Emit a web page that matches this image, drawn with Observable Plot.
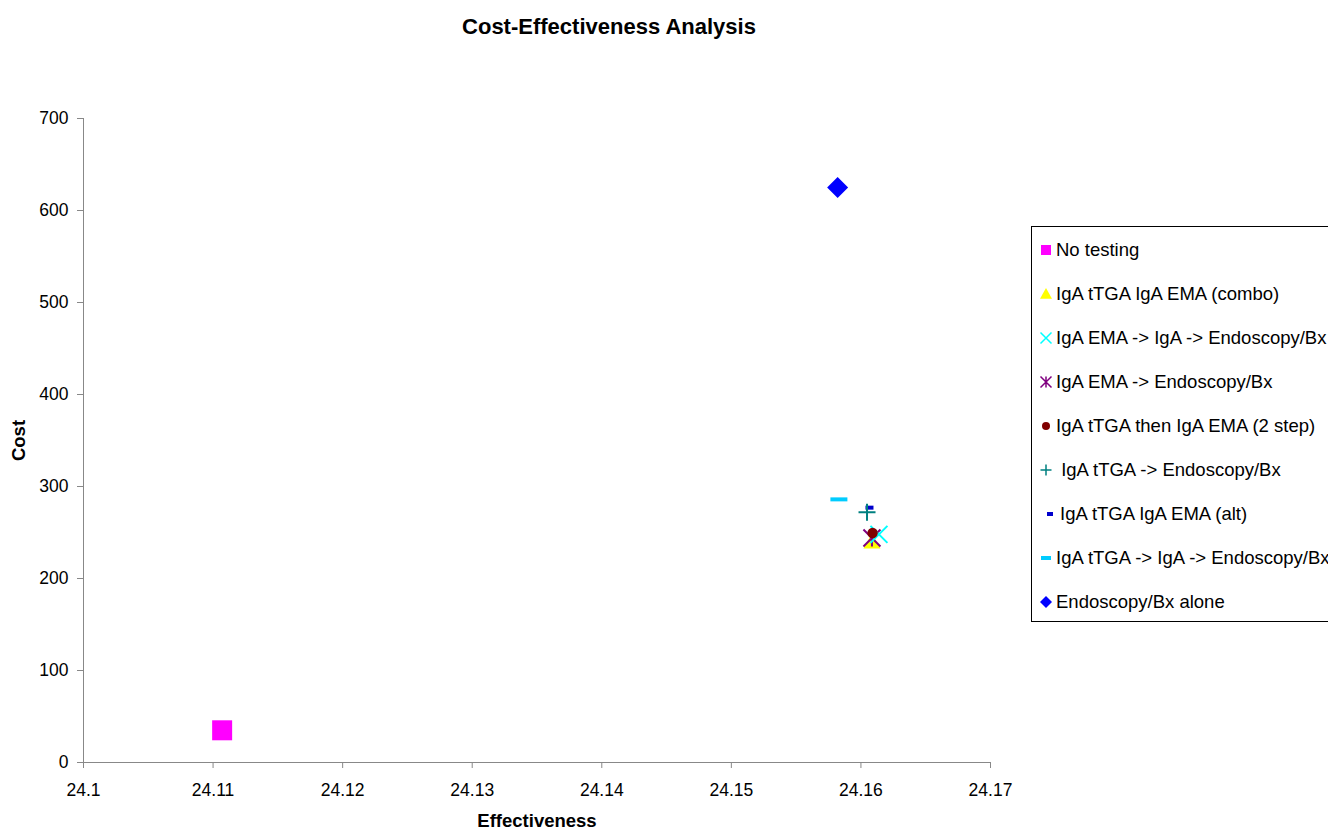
<!DOCTYPE html>
<html>
<head>
<meta charset="utf-8">
<script src="https://cdn.jsdelivr.net/npm/d3@7"></script>
<script src="https://cdn.jsdelivr.net/npm/@observablehq/plot@0.6"></script>
<style>
  html, body { margin: 0; padding: 0; background: #fff; }
  body { width: 1328px; height: 829px; position: relative; overflow: hidden; font-family: "Liberation Sans", Arial, sans-serif; }
  #title { position: absolute; left: 0; width: 1218px; top: 14px; text-align: center; font-weight: bold; font-size: 22px; color: #000; }
  #chart { position: absolute; left: 0; top: 0; }
  #legend { position: absolute; left: 1031px; top: 226px; width: 340px; height: 396px; border: 1px solid #000; background: #fff; box-sizing: border-box; }
  .item { position: absolute; left: 0; height: 22px; font-size: 18.5px; color: #000; white-space: nowrap; display: flex; align-items: center; }
  .item svg { flex: none; }
  .item span { margin-left: 3px; white-space: pre; }
  g[aria-label="y-axis label"] text, g[aria-label="x-axis label"] text { font-weight: bold; font-size: 18.5px; }
</style>
</head>
<body>
<div id="chart"></div>
<div id="title">Cost-Effectiveness Analysis</div>
<div id="legend"></div>
<script>
// ---- data ----
const seriesNames = [
  "No testing",
  "IgA tTGA IgA EMA (combo)",
  "IgA EMA -> IgA -> Endoscopy/Bx",
  "IgA EMA -> Endoscopy/Bx",
  "IgA tTGA then IgA EMA (2 step)",
  " IgA tTGA -> Endoscopy/Bx",
  "IgA tTGA IgA EMA (alt)",
  "IgA tTGA -> IgA -> Endoscopy/Bx",
  "Endoscopy/Bx alone"
];
const effectiveness = [24.1107, 24.16085, 24.16139, 24.16085, 24.1609, 24.16047, 24.16066, 24.1583, 24.1582];
const cost = [35, 240, 248, 244, 249.5, 272, 277, 286, 625];
const xTicks = [24.1, 24.11, 24.12, 24.13, 24.14, 24.15, 24.16, 24.17];
const yTicks = [0, 100, 200, 300, 400, 500, 600, 700];

// ---- marker styles ----
const colors = ["#ff00ff", "#ffff00", "#00ffff", "#800080", "#800000", "#008080", "#0000cc", "#00ccff", "#0000ff"];
const kinds = ["square", "triangle", "times", "asterisk", "circle", "plus", "dashSmall", "dash", "diamond"];
const halfSizes = [10, 8.5, 8.5, 8.5, 5.2, 8.5, 4, 8.5, 10.5];
const strokeKinds = new Set(["times", "asterisk", "plus"]);

function makeSymbol(kind) {
  return {
    draw(ctx, size) {
      const r = Math.sqrt(size / Math.PI);
      switch (kind) {
        case "square": ctx.rect(-r, -r, 2 * r, 2 * r); break;
        case "triangle": ctx.moveTo(0, -r); ctx.lineTo(r, r * 0.8); ctx.lineTo(-r, r * 0.8); ctx.closePath(); break;
        case "times": ctx.moveTo(-r, -r); ctx.lineTo(r, r); ctx.moveTo(-r, r); ctx.lineTo(r, -r); break;
        case "asterisk": ctx.moveTo(-r, -r); ctx.lineTo(r, r); ctx.moveTo(-r, r); ctx.lineTo(r, -r); ctx.moveTo(0, -r); ctx.lineTo(0, r); break;
        case "circle": ctx.moveTo(r, 0); ctx.arc(0, 0, r, 0, 2 * Math.PI); break;
        case "plus": ctx.moveTo(-r, 0); ctx.lineTo(r, 0); ctx.moveTo(0, -r); ctx.lineTo(0, r); break;
        case "dashSmall": ctx.rect(-r, -2, 2 * r, 4); break;
        case "dash": ctx.rect(-r, -2, 2 * r, 4); break;
        case "diamond": ctx.moveTo(0, -r); ctx.lineTo(r, 0); ctx.lineTo(0, r); ctx.lineTo(-r, 0); ctx.closePath(); break;
      }
    }
  };
}

const rows = seriesNames.map((name, i) => ({name, x: effectiveness[i], y: cost[i], i}));
const drawOrder = [0, 8, 7, 6, 5, 1, 3, 2, 4];

const dotMarks = drawOrder.map(i => {
  const k = kinds[i];
  const isStroke = strokeKinds.has(k);
  return Plot.dot([rows[i]], {
    x: "x", y: "y",
    symbol: makeSymbol(k),
    r: halfSizes[i],
    fill: isStroke ? "none" : colors[i],
    stroke: isStroke ? colors[i] : "none",
    strokeWidth: isStroke ? 2 : 0
  });
});

const fmtX = d => String(+d.toFixed(2));
const plot = Plot.plot({
  width: 1328,
  height: 829,
  marginLeft: 83,
  marginRight: 338,
  marginTop: 118,
  marginBottom: 67,
  style: {fontFamily: "Liberation Sans, Arial, sans-serif", fontSize: "17.5px", color: "#000", background: "#fff"},
  x: {domain: [24.1, 24.17]},
  y: {domain: [0, 700]},
  marks: [
    Plot.ruleX([24.1], {stroke: "#888"}),
    Plot.ruleY([0], {stroke: "#888"}),
    Plot.axisX({ticks: xTicks, tickFormat: fmtX, tickSize: 6, tickPadding: 15, stroke: "#888", fill: "#000",
      label: "Effectiveness", labelAnchor: "center", labelArrow: "none", labelOffset: 64}),
    Plot.axisY({ticks: yTicks, tickSize: 6, tickPadding: 9, stroke: "#888", fill: "#000",
      label: "Cost", labelAnchor: "center", labelArrow: "none", labelOffset: 72}),
    ...dotMarks
  ]
});
document.getElementById("chart").appendChild(plot);

// ---- legend ----
const legend = document.getElementById("legend");
const legendOffsetsX = [7, 7, 7, 7, 7, 7, 11, 7, 7];
seriesNames.forEach((name, i) => {
  const div = document.createElement("div");
  div.className = "item";
  div.style.top = (12 + i * 44) + "px";
  div.style.left = legendOffsetsX[i] + "px";
  const k = kinds[i];
  const isStroke = strokeKinds.has(k);
  const lr = {square: 5, triangle: 6, times: 5.5, asterisk: 5.5, circle: 4, plus: 5.5, dashSmall: 3, dash: 5, diamond: 6}[k];
  const path = d3.path();
  makeSymbol(k).draw(path, Math.PI * lr * lr);
  const svg = d3.create("svg").attr("width", 14).attr("height", 22);
  svg.append("path").attr("transform", "translate(7,11)").attr("d", path.toString())
    .attr("fill", isStroke ? "none" : colors[i])
    .attr("stroke", isStroke ? colors[i] : "none")
    .attr("stroke-width", isStroke ? 1.5 : 0);
  div.appendChild(svg.node());
  const span = document.createElement("span");
  span.textContent = name;
  div.appendChild(span);
  legend.appendChild(div);
});
</script>
</body>
</html>
